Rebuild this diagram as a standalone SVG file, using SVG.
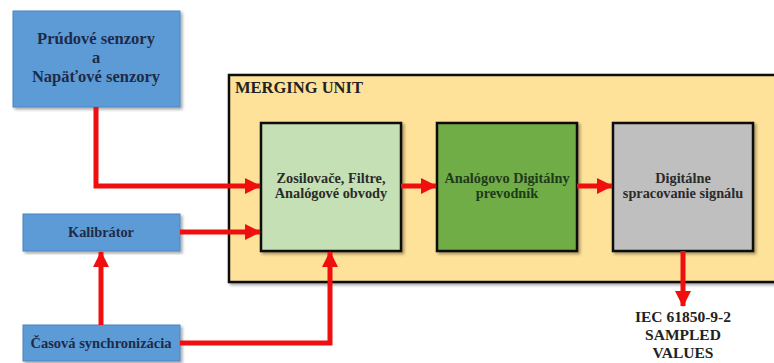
<svg xmlns="http://www.w3.org/2000/svg" width="774" height="363" viewBox="0 0 774 363">
<style>
.t{font-family:"Liberation Serif","Times New Roman",serif;font-weight:bold;text-anchor:middle}
.blue{fill:#5b9bd5;stroke:#4a86bf;stroke-width:1}
.bt{fill:#1f2a48;font-size:16.5px}
.it{fill:#2b2b2b;font-size:14.3px}
.inner{stroke:#111;stroke-width:2.5}
.c{fill:none;stroke:#f00f0f;stroke-width:5}
.out{font-size:15.5px;fill:#222}
</style>
<defs>
<filter id="sh" x="-5%" y="-5%" width="115%" height="115%">
<feDropShadow dx="2" dy="2" stdDeviation="1.5" flood-color="#000" flood-opacity="0.35"/>
</filter>
<marker id="ah" markerUnits="userSpaceOnUse" markerWidth="16" markerHeight="16" refX="15" refY="8" orient="auto">
<path d="M0,0 L16,8 L0,16 Z" fill="#f00f0f"/>
</marker>
</defs>
<g id="merging-unit">
<rect x="229" y="75" width="560" height="207" fill="#fee29a" stroke="#111" stroke-width="2.5" filter="url(#sh)"/>
<text class="t" x="235" y="93" style="text-anchor:start;font-size:16.5px;fill:#222">MERGING UNIT</text>
</g>
<g id="sensors">
<rect class="blue" x="13" y="11" width="167" height="96" filter="url(#sh)"/>
<text class="t bt" x="96" y="44">Prúdové senzory</text>
<text class="t bt" x="96" y="63">a</text>
<text class="t bt" x="96" y="82">Napäťové senzory</text>
</g>
<g id="kalibrator">
<rect class="blue" x="23" y="214" width="157" height="37" filter="url(#sh)"/>
<text class="t bt" x="101" y="237" style="font-size:14.3px">Kalibrátor</text>
</g>
<g id="casova">
<rect class="blue" x="23" y="325" width="157" height="36" filter="url(#sh)"/>
<text class="t bt" x="101" y="348" style="font-size:14.5px">Časová synchronizácia</text>
</g>
<g id="zosilovace">
<rect class="inner" x="261" y="123" width="140" height="128" fill="#c5e0b4" filter="url(#sh)"/>
<text class="t it" x="331" y="183">Zosilovače, Filtre,</text>
<text class="t it" x="331" y="198">Analógové obvody</text>
</g>
<g id="adc">
<rect class="inner" x="437" y="123" width="140" height="128" fill="#70ad47" filter="url(#sh)"/>
<text class="t it" x="507" y="183" style="fill:#1e3a1a">Analógovo Digitálny</text>
<text class="t it" x="507" y="198" style="fill:#1e3a1a">prevodník</text>
</g>
<g id="dsp">
<rect class="inner" x="613" y="123" width="140" height="128" fill="#bfbfbf" filter="url(#sh)"/>
<text class="t it" x="683" y="183">Digitálne</text>
<text class="t it" x="683" y="198">spracovanie signálu</text>
</g>
<g id="output">
<text class="t out" x="683" y="322">IEC 61850-9-2</text>
<text class="t out" x="683" y="340">SAMPLED</text>
<text class="t out" x="683" y="358">VALUES</text>
</g>
<g id="connectors">
<polyline class="c" points="96,107 96,186 260,186" marker-end="url(#ah)"/>
<line class="c" x1="180" y1="232" x2="260" y2="232" marker-end="url(#ah)"/>
<polyline class="c" points="180,343 330,343 330,252" marker-end="url(#ah)"/>
<line class="c" x1="101" y1="325" x2="101" y2="252" marker-end="url(#ah)"/>
<line class="c" x1="401" y1="186" x2="436" y2="186" marker-end="url(#ah)"/>
<line class="c" x1="577" y1="186" x2="612" y2="186" marker-end="url(#ah)"/>
<line class="c" x1="683" y1="251" x2="683" y2="306" marker-end="url(#ah)"/>
</g>
</svg>
